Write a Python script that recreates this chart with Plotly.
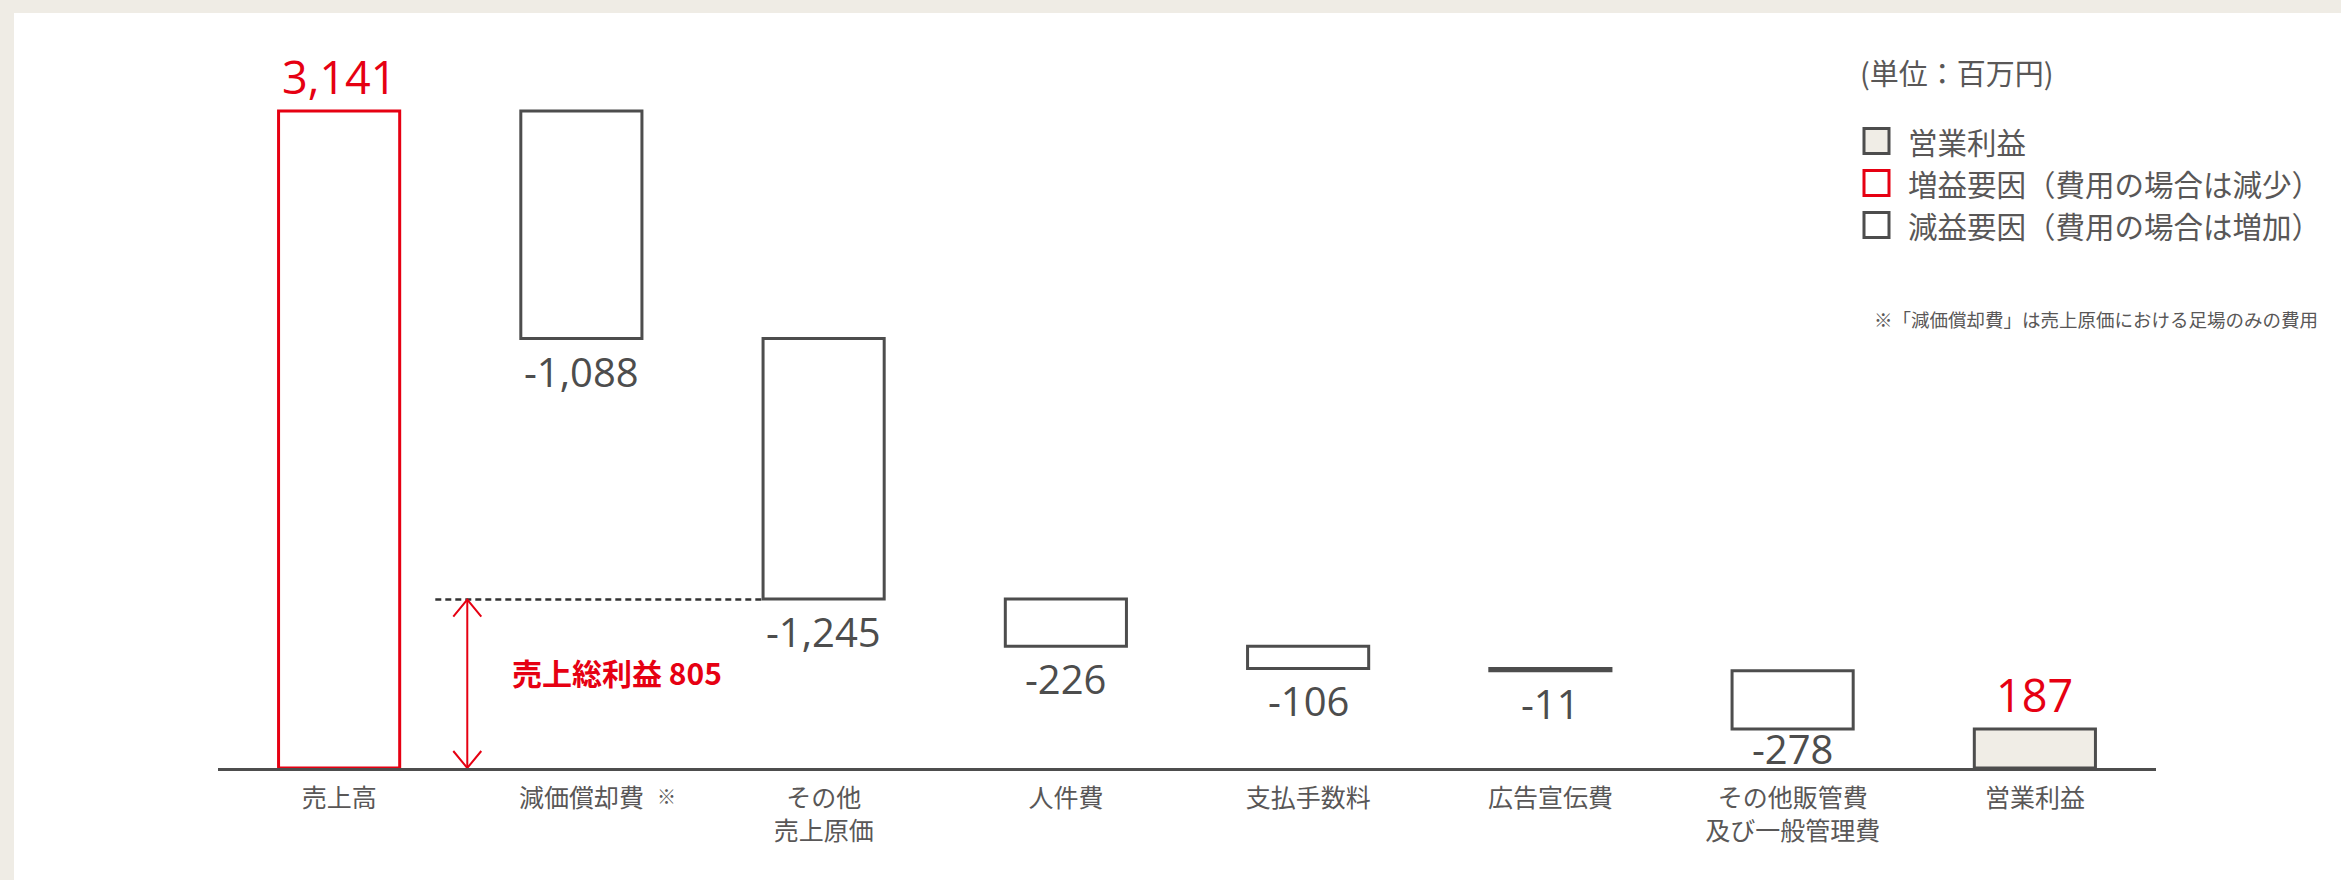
import plotly.graph_objects as go

# ---------------- data ----------------
categories = ["売上高", "減価償却費", "その他<br>売上原価", "人件費",
              "支払手数料", "広告宣伝費", "その他販管費<br>及び一般管理費", "営業利益"]
values = [3141, -1088, -1245, -226, -106, -11, -278, 187]
measures = ["relative"] * 7 + ["total"]
note_mark = "※"
note_category = "減価償却費"
gross_profit = 805
gross_profit_label = "売上総利益 805"
unit_label = "(単位：百万円)"
legend_labels = ["営業利益", "増益要因（費用の場合は減少）", "減益要因（費用の場合は増加）"]
footnote = "※「減価償却費」は売上原価における足場のみの費用"

# ---------------- style ----------------
RED = "#e60012"
DARK = "#4d4d4d"
GRAY_TXT = "#595757"
BEIGE = "#f0ede6"
BG = "#efece5"

W, H = 2341, 880
ML, MR, MT, MB = 218, 185, 40, 112
PW, PH = W - ML - MR, H - MT - MB
YMAX = 3480
UNIT_PX = PH / YMAX            # px per data unit
CAT_PX = PW / len(categories)  # px per category


def px(x):
    return (x - ML) / PW


def py(y):
    return (H - MB - y) / PH


fig = go.Figure()
fig.add_trace(go.Waterfall(
    x=categories, y=values, measure=measures,
    textinfo="none", hoverinfo="x+y",
    connector=dict(visible=False),
    increasing=dict(marker=dict(color="white", line=dict(color=RED, width=3))),
    decreasing=dict(marker=dict(color="white", line=dict(color=DARK, width=3))),
    totals=dict(marker=dict(color=BEIGE, line=dict(color=DARK, width=3))),
    showlegend=False,
))

annotations = []
shapes = []

# value labels
running = 0
label_shift_below = [0, -3, -3, -3, -3, -3, 10, 0]
for i, (cat, v, m) in enumerate(zip(categories, values, measures)):
    if m == "total":
        start, end = 0, running
    else:
        start, end = running, running + v
        running = end
    if v > 0:
        annotations.append(dict(x=cat, y=max(start, end), text=f"{v:,}", showarrow=False,
                                xanchor="center", yanchor="bottom", yshift=2,
                                font=dict(family="Open Sans, Liberation Sans", size=45, color=RED)))
    else:
        annotations.append(dict(x=cat, y=min(start, end), text=f"{v:,}", showarrow=False,
                                xanchor="center", yanchor="top", yshift=label_shift_below[i],
                                font=dict(family="Open Sans, Liberation Sans", size=40, color=DARK)))

# note mark next to the depreciation label
annotations.append(dict(x=note_category, xref="x", xshift=85, yref="paper", y=py(795), text=note_mark,
                        showarrow=False, xanchor="center", yanchor="middle",
                        font=dict(family="Noto Sans CJK JP", size=19, color=GRAY_TXT)))

# gross profit marker: dashed line, double arrow, label
x_arrow = 0.529
dx = 14 / CAT_PX
dy = 17 / UNIT_PX
shapes.append(dict(type="line", xref="x", yref="y", x0=0.397, x1=1.75, y0=gross_profit, y1=gross_profit,
                   line=dict(color="#333333", width=2.5, dash="6px,4px")))
shapes.append(dict(type="line", xref="x", yref="y", x0=x_arrow, x1=x_arrow, y0=0, y1=gross_profit,
                   line=dict(color=RED, width=2)))
shapes.append(dict(type="path", xref="x", yref="y",
                   path=f"M {x_arrow-dx},{gross_profit-dy} L {x_arrow},{gross_profit} L {x_arrow+dx},{gross_profit-dy}",
                   line=dict(color=RED, width=2)))
shapes.append(dict(type="path", xref="x", yref="y",
                   path=f"M {x_arrow-dx},{dy} L {x_arrow},0 L {x_arrow+dx},{dy}",
                   line=dict(color=RED, width=2)))
annotations.append(dict(x=0.707, y=gross_profit * 0.57, xref="x", yref="y", text=f"<b>{gross_profit_label}</b>",
                        showarrow=False, xanchor="left", yanchor="middle",
                        font=dict(family="Noto Sans CJK JP", size=30, color=RED)))

# white panel
shapes.insert(0, dict(type="rect", xref="paper", yref="paper", x0=px(14), x1=px(W + 20),
                      y0=py(H + 20), y1=py(13), fillcolor="white", line=dict(width=0), layer="below"))

# custom legend
annotations.append(dict(xref="paper", yref="paper", x=px(1858), y=py(72), text=unit_label, showarrow=False,
                        xanchor="left", yanchor="middle",
                        font=dict(family="Noto Sans CJK JP", size=29, color=GRAY_TXT)))
legend_styles = [(BEIGE, DARK), ("white", RED), ("white", DARK)]
row_y = [141, 183, 225]
for lab, (fill, edge), yc in zip(legend_labels, legend_styles, row_y):
    shapes.append(dict(type="rect", xref="paper", yref="paper", x0=px(1864), x1=px(1889),
                       y0=py(yc + 12.5), y1=py(yc - 12.5), fillcolor=fill, line=dict(color=edge, width=3)))
    annotations.append(dict(xref="paper", yref="paper", x=px(1906), y=py(yc), text=lab, showarrow=False,
                            xanchor="left", yanchor="middle",
                            font=dict(family="Noto Sans CJK JP", size=29.5, color=GRAY_TXT)))
annotations.append(dict(xref="paper", yref="paper", x=px(1872), y=py(319), text=footnote, showarrow=False,
                        xanchor="left", yanchor="middle",
                        font=dict(family="Noto Sans CJK JP", size=18.5, color=GRAY_TXT)))

fig.update_layout(
    width=W, height=H,
    margin=dict(l=ML, r=MR, t=MT, b=MB),
    paper_bgcolor=BG, plot_bgcolor="white",
    waterfallgap=0.5,
    xaxis=dict(showline=True, linecolor=DARK, linewidth=3, showgrid=False, zeroline=False,
               range=[-0.5, 7.5], ticks="", ticklabelstandoff=6,
               tickfont=dict(family="Noto Sans CJK JP", size=25, color=GRAY_TXT)),
    yaxis=dict(visible=False, range=[0, YMAX], showgrid=False, zeroline=False),
    shapes=shapes, annotations=annotations,
    font=dict(family="Noto Sans CJK JP"),
)

fig.write_html("out.html", config={"displayModeBar": False},
               post_script="document.body.style.margin='0';document.body.style.overflow='hidden';")
